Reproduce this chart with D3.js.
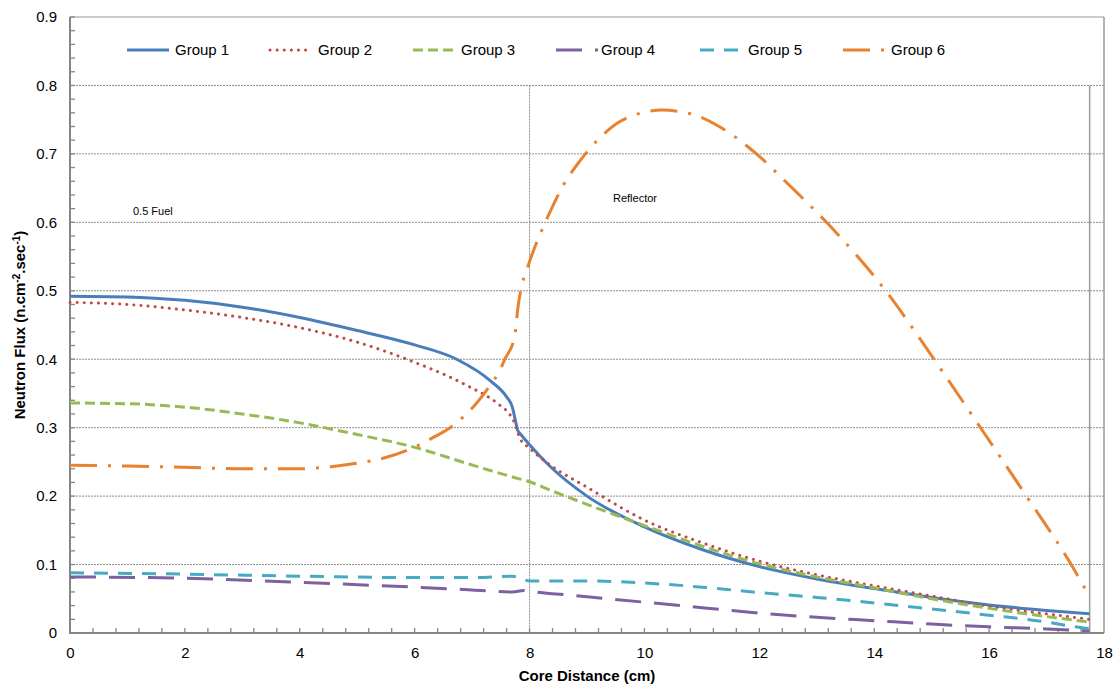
<!DOCTYPE html>
<html>
<head>
<meta charset="utf-8">
<script src="https://cdn.jsdelivr.net/npm/d3@7"></script>
<style>
  body { margin: 0; background: #fff; }
  svg text { font-family: "Liberation Sans", Arial, sans-serif; fill: #000; }
</style>
</head>
<body>
<script>
var w = 1118, h = 689;
var margin = {left: 70, right: 14, top: 17, bottom: 56};

var seriesNames = ["Group 1", "Group 2", "Group 3", "Group 4", "Group 5", "Group 6"];

var g1x = [0, 1, 2, 3, 4, 5, 6, 6.73, 7.34, 7.6, 7.7, 7.75, 7.79, 7.85, 8, 8.35, 9, 10, 11, 12, 13, 14, 15, 16, 17, 17.75];
var g1y = [0.492, 0.491, 0.486, 0.476, 0.461, 0.442, 0.421, 0.400, 0.367, 0.345, 0.330, 0.312, 0.297, 0.290, 0.275, 0.244, 0.200, 0.155, 0.122, 0.097, 0.079, 0.065, 0.052, 0.041, 0.033, 0.028];

var g2x = [0, 1, 2, 3, 4, 5, 5.86, 6.9, 7.48, 7.65, 7.74, 7.83, 8, 8.3, 9, 10, 11, 12, 13, 14, 15, 16, 17, 17.75];
var g2y = [0.483, 0.480, 0.472, 0.461, 0.446, 0.425, 0.400, 0.362, 0.333, 0.320, 0.307, 0.285, 0.270, 0.249, 0.213, 0.165, 0.132, 0.105, 0.085, 0.069, 0.054, 0.039, 0.028, 0.020];

var g3x = [0, 1, 2, 3, 4, 5, 5.97, 6.9, 7.7, 8, 8.35, 9, 10, 11, 12, 13, 14, 15, 16, 17, 17.75];
var g3y = [0.336, 0.335, 0.330, 0.320, 0.307, 0.290, 0.272, 0.248, 0.228, 0.221, 0.209, 0.188, 0.157, 0.127, 0.101, 0.082, 0.066, 0.050, 0.036, 0.024, 0.016];

var g4x = [0, 2, 4, 6, 7, 7.7, 7.9, 8, 9, 10, 11, 12, 13, 14, 15, 16, 17, 17.75];
var g4y = [0.082, 0.080, 0.074, 0.067, 0.063, 0.060, 0.062, 0.061, 0.053, 0.045, 0.037, 0.029, 0.023, 0.018, 0.013, 0.009, 0.006, 0.003];

var g5x = [0, 2, 4, 6, 7, 7.7, 7.9, 8, 9, 10, 11, 12, 13, 14, 15, 16, 17, 17.5, 17.75];
var g5y = [0.088, 0.086, 0.083, 0.081, 0.081, 0.083, 0.078, 0.076, 0.076, 0.073, 0.067, 0.059, 0.052, 0.044, 0.035, 0.026, 0.016, 0.009, 0.006];

var g6x = [0, 1, 2, 3, 4, 4.55, 5, 5.48, 5.9, 6.31, 6.73, 6.9, 7.08, 7.34, 7.46, 7.57, 7.74, 7.8, 7.88, 7.95, 8.03, 8.2, 8.4, 8.6, 8.87, 9.16, 9.53, 9.95, 10.3, 10.87, 11.3, 11.95, 12.5, 13.17, 14.2, 15.04, 15.85, 16.65, 17.4, 17.75];
var g6y = [0.245, 0.244, 0.242, 0.240, 0.240, 0.243, 0.248, 0.256, 0.268, 0.285, 0.307, 0.320, 0.336, 0.365, 0.380, 0.400, 0.433, 0.477, 0.513, 0.530, 0.550, 0.586, 0.623, 0.656, 0.689, 0.718, 0.745, 0.760, 0.764, 0.757, 0.740, 0.700, 0.656, 0.600, 0.500, 0.400, 0.300, 0.200, 0.104, 0.053];

var xTicks = [0, 2, 4, 6, 8, 10, 12, 14, 16, 18];
var yTicks = [0, 0.1, 0.2, 0.3, 0.4, 0.5, 0.6, 0.7, 0.8, 0.9];
var regionLines = [8, 17.75];

var colors = ["#4a7ebb", "#be4b48", "#98b954", "#7d60a0", "#46aac5", "#e8822e"];
var dashes = ["none", "0.1,7", "10,5", "26,13", "14,10", "27,11,3,11"];
var caps = ["butt", "round", "butt", "butt", "butt", "butt"];

var xsAll = [g1x, g2x, g3x, g4x, g5x, g6x];
var ysAll = [g1y, g2y, g3y, g4y, g5y, g6y];

var series = seriesNames.map(function(name, i) {
    return {
        name: name,
        color: colors[i],
        dash: dashes[i],
        cap: caps[i],
        values: xsAll[i].map(function(x, j) { return {x: x, y: ysAll[i][j]}; })
    };
});

var svg = d3.select("body")
            .append("svg")
            .attr("width", w)
            .attr("height", h);

var xScale = d3.scaleLinear()
                .domain([0, 18])
                .range([margin.left, w - margin.right]);

var yScale = d3.scaleLinear()
                .domain([0, 0.9])
                .range([h - margin.bottom, margin.top]);

// horizontal gridlines
svg.append("g")
    .selectAll("line")
    .data(yTicks.slice(1, yTicks.length - 1))
    .enter()
    .append("line")
    .attr("x1", xScale(0))
    .attr("x2", xScale(18))
    .attr("y1", d => yScale(d))
    .attr("y2", d => yScale(d))
    .attr("stroke", "#8c8c8c")
    .attr("stroke-width", 1)
    .attr("stroke-dasharray", "2,1");

// top & right frame
svg.append("line")
    .attr("x1", xScale(0)).attr("x2", xScale(18))
    .attr("y1", yScale(0.9)).attr("y2", yScale(0.9))
    .attr("stroke", "#9a9a9a").attr("stroke-width", 1.2);
svg.append("line")
    .attr("x1", xScale(18)).attr("x2", xScale(18))
    .attr("y1", yScale(0.9)).attr("y2", yScale(0))
    .attr("stroke", "#9a9a9a").attr("stroke-width", 1.5);

// region boundaries
svg.append("line")
    .attr("x1", xScale(regionLines[0])).attr("x2", xScale(regionLines[0]))
    .attr("y1", yScale(0.8)).attr("y2", yScale(0))
    .attr("stroke", "#8c8c8c").attr("stroke-width", 1)
    .attr("stroke-dasharray", "2,1");
svg.append("line")
    .attr("x1", xScale(regionLines[1])).attr("x2", xScale(regionLines[1]))
    .attr("y1", yScale(0.8)).attr("y2", yScale(0))
    .attr("stroke", "#9a9a9a").attr("stroke-width", 1.5);

// axes
var xAxis = d3.axisBottom(xScale)
            .tickValues(xTicks)
            .tickSize(0)
            .tickPadding(14)
            .tickFormat(d3.format("d"));

var yAxis = d3.axisLeft(yScale)
            .tickValues(yTicks)
            .tickSize(0)
            .tickPadding(13)
            .tickFormat(d => d === 0 ? "0" : d3.format(".1f")(d));

var gx = svg.append("g")
    .attr("transform", "translate(0," + yScale(0) + ")")
    .call(xAxis);
gx.select(".domain").remove();
gx.selectAll("text").style("font-size", "15px").style("font-family", "Liberation Sans, Arial");

var gy = svg.append("g")
    .attr("transform", "translate(" + xScale(0) + ",0)")
    .call(yAxis);
gy.select(".domain").remove();
gy.selectAll("text").style("font-size", "15px").style("font-family", "Liberation Sans, Arial");

// minor ticks (inside)
var xMinor = d3.range(0, 45).map(i => i * 0.4).filter(v => v <= 17.7);
svg.append("g")
    .selectAll("line")
    .data(xMinor)
    .enter()
    .append("line")
    .attr("x1", d => xScale(d)).attr("x2", d => xScale(d))
    .attr("y1", yScale(0)).attr("y2", yScale(0) - 5)
    .attr("stroke", "#868686").attr("stroke-width", 1.3);

var yMinor = d3.range(0, 46).map(i => i * 0.02);
svg.append("g")
    .selectAll("line")
    .data(yMinor)
    .enter()
    .append("line")
    .attr("x1", xScale(0)).attr("x2", xScale(0) + 5)
    .attr("y1", d => yScale(d)).attr("y2", d => yScale(d))
    .attr("stroke", "#868686").attr("stroke-width", 1.3);

// axis lines
svg.append("line")
    .attr("x1", xScale(0)).attr("x2", xScale(0))
    .attr("y1", yScale(0.9)).attr("y2", yScale(0) + 1)
    .attr("stroke", "#868686").attr("stroke-width", 2);
svg.append("line")
    .attr("x1", xScale(0) - 1).attr("x2", xScale(18))
    .attr("y1", yScale(0)).attr("y2", yScale(0))
    .attr("stroke", "#868686").attr("stroke-width", 2);

// curves
var line = d3.line()
            .x(d => xScale(d.x))
            .y(d => yScale(d.y))
            .curve(d3.curveMonotoneX);

svg.append("g")
    .selectAll("path")
    .data(series)
    .enter()
    .append("path")
    .attr("d", d => line(d.values))
    .attr("fill", "none")
    .attr("stroke", d => d.color)
    .attr("stroke-width", 3)
    .attr("stroke-linecap", d => d.cap)
    .attr("stroke-dasharray", d => d.dash);

// legend
var legendX = [127, 270, 413, 556, 700, 843];
var legend = svg.append("g")
    .selectAll("g")
    .data(series)
    .enter()
    .append("g")
    .attr("transform", (d, i) => "translate(" + legendX[i] + ",50)");

legend.append("line")
    .attr("x1", 0).attr("x2", 42)
    .attr("y1", 0).attr("y2", 0)
    .attr("stroke", d => d.color)
    .attr("stroke-width", 3)
    .attr("stroke-linecap", d => d.cap)
    .attr("stroke-dasharray", d => d.dash);

legend.append("text")
    .attr("x", (d, i) => i === 3 ? 45 : 48)
    .attr("y", 5)
    .style("font-size", "15px")
    .text(d => d.name);

// region labels
svg.append("text")
    .attr("x", 133).attr("y", 215)
    .style("font-size", "11px")
    .text("0.5 Fuel");
svg.append("text")
    .attr("x", 613).attr("y", 202)
    .style("font-size", "11px")
    .text("Reflector");

// axis titles
svg.append("text")
    .attr("x", (xScale(0) + xScale(18)) / 2)
    .attr("y", 681)
    .attr("text-anchor", "middle")
    .style("font-size", "15px")
    .style("font-weight", "bold")
    .text("Core Distance (cm)");

var yTitle = svg.append("text")
    .attr("transform", "translate(25," + 325 + ") rotate(-90)")
    .attr("text-anchor", "middle")
    .style("font-size", "15px")
    .style("font-weight", "bold");
yTitle.append("tspan").text("Neutron Flux (n.cm");
yTitle.append("tspan").attr("dy", -5).style("font-size", "10px").text("-2");
yTitle.append("tspan").attr("dy", 5).text(".sec");
yTitle.append("tspan").attr("dy", -5).style("font-size", "10px").text("-1");
yTitle.append("tspan").attr("dy", 5).text(")");
</script>
</body>
</html>
